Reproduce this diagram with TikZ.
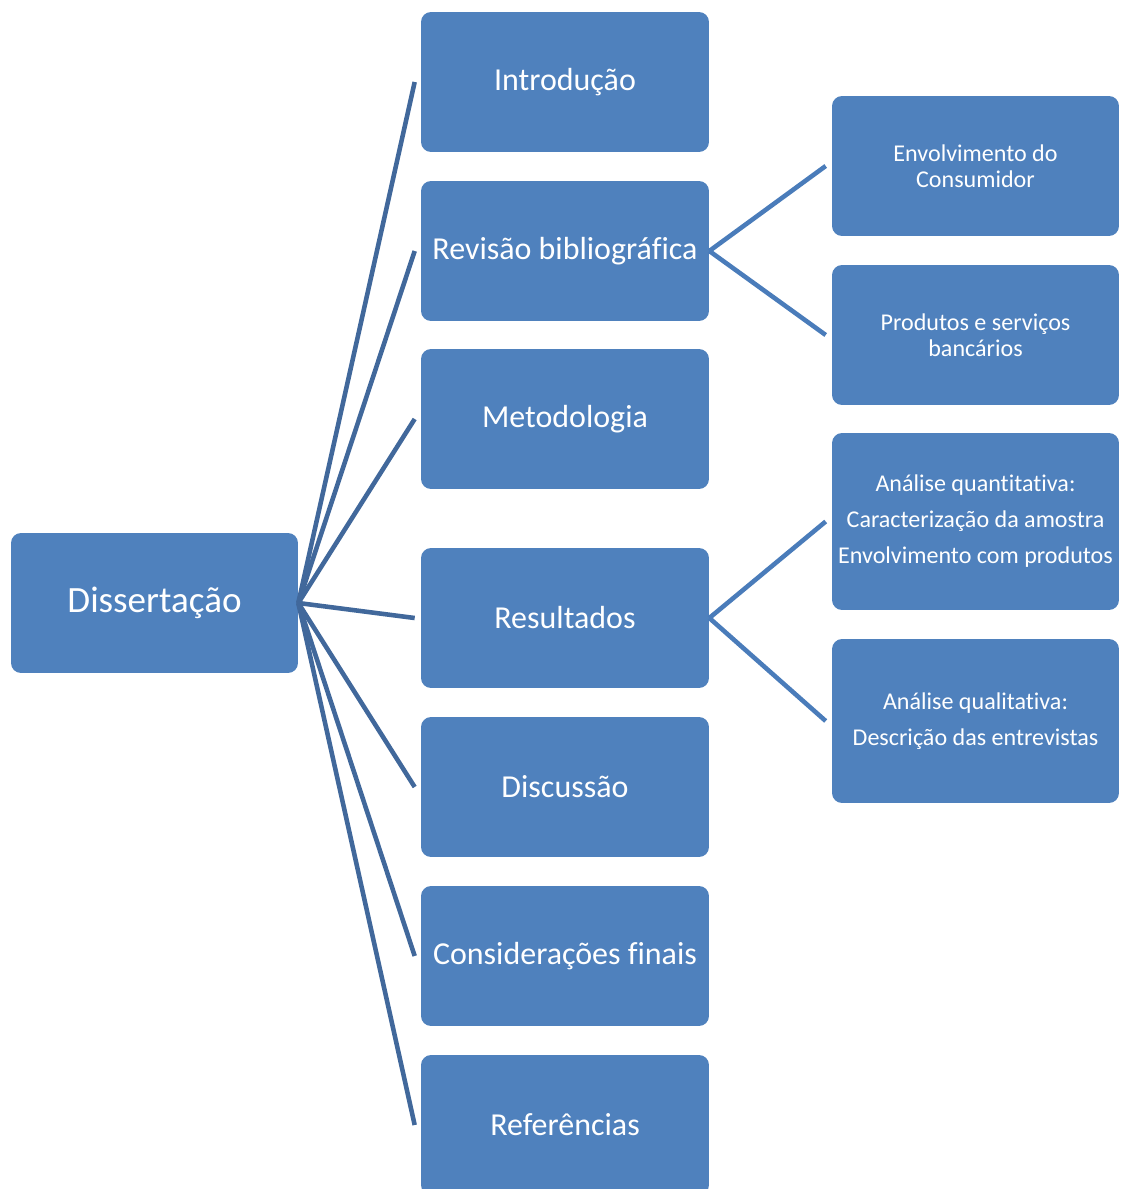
\documentclass[tikz,border=0pt]{standalone}
\usepackage{fontspec}
\setmainfont[RawFeature={-liga;-clig;-dlig;-calt}]{Carlito}
\definecolor{boxblue}{HTML}{4F81BD}
\definecolor{lineleft}{HTML}{41689B}
\definecolor{lineright}{HTML}{4A7CBA}
\tikzset{
  part/.style={rectangle, rounded corners=0.2cm, fill=boxblue, text=white,
    minimum width=5.76cm, minimum height=2.8cm, align=center, inner sep=2pt},
  sub/.style={part, minimum width=5.74cm, font=\fontsize{13.7}{14.8}\selectfont},
  link/.style={line width=2.6pt, lineleft},
  sublink/.style={line width=2.6pt, lineright}
}
\begin{document}
\begin{tikzpicture}[x=0.02cm, y=-0.02cm]
\clip (0,0) rectangle (1125,1189);
\node[part, minimum width=5.74cm, font=\fontsize{21.1}{25}\selectfont] (diss) at (154.5,603){Dissertação};
\node[part, font=\fontsize{18.2}{21}\selectfont] (intro) at (565,82){Introdução};
\node[part, font=\fontsize{18.2}{21}\selectfont] (rev) at (565,251){Revisão bibliográfica};
\node[part, font=\fontsize{18.2}{21}\selectfont] (met) at (565,419){Metodologia};
\node[part, font=\fontsize{18.2}{21}\selectfont] (res) at (565,618){Resultados};
\node[part, font=\fontsize{18.2}{21}\selectfont] (disc) at (565,787){Discussão};
\node[part, font=\fontsize{18.2}{21}\selectfont] (cons) at (565,956){Considerações finais};
\node[part, font=\fontsize{18.2}{21}\selectfont] (ref) at (565,1125){Referências};
\node[sub] (envc) at (975.5,166){Envolvimento do\\Consumidor};
\node[sub] (prod) at (975.5,335){Produtos e serviços\\bancários};
\node[sub, minimum height=3.54cm] (quant) at (975.5,521.5){Análise quantitativa:\\[0.2cm]Caracterização da amostra\\[0.2cm]Envolvimento com produtos};
\node[sub, minimum height=3.28cm] (qual) at (975.5,721){Análise qualitativa:\\[0.2cm]Descrição das entrevistas};
\foreach \n in {intro,rev,met,res,disc,cons,ref}
  \draw[link](diss.east) -- ([xshift=-0.12cm]\n.west);
\draw[sublink](rev.east) -- ([xshift=-0.12cm]envc.west);
\draw[sublink](rev.east) -- ([xshift=-0.12cm]prod.west);
\draw[sublink](res.east) -- ([xshift=-0.12cm]quant.west);
\draw[sublink](res.east) -- ([xshift=-0.12cm]qual.west);
\end{tikzpicture}
\end{document}
